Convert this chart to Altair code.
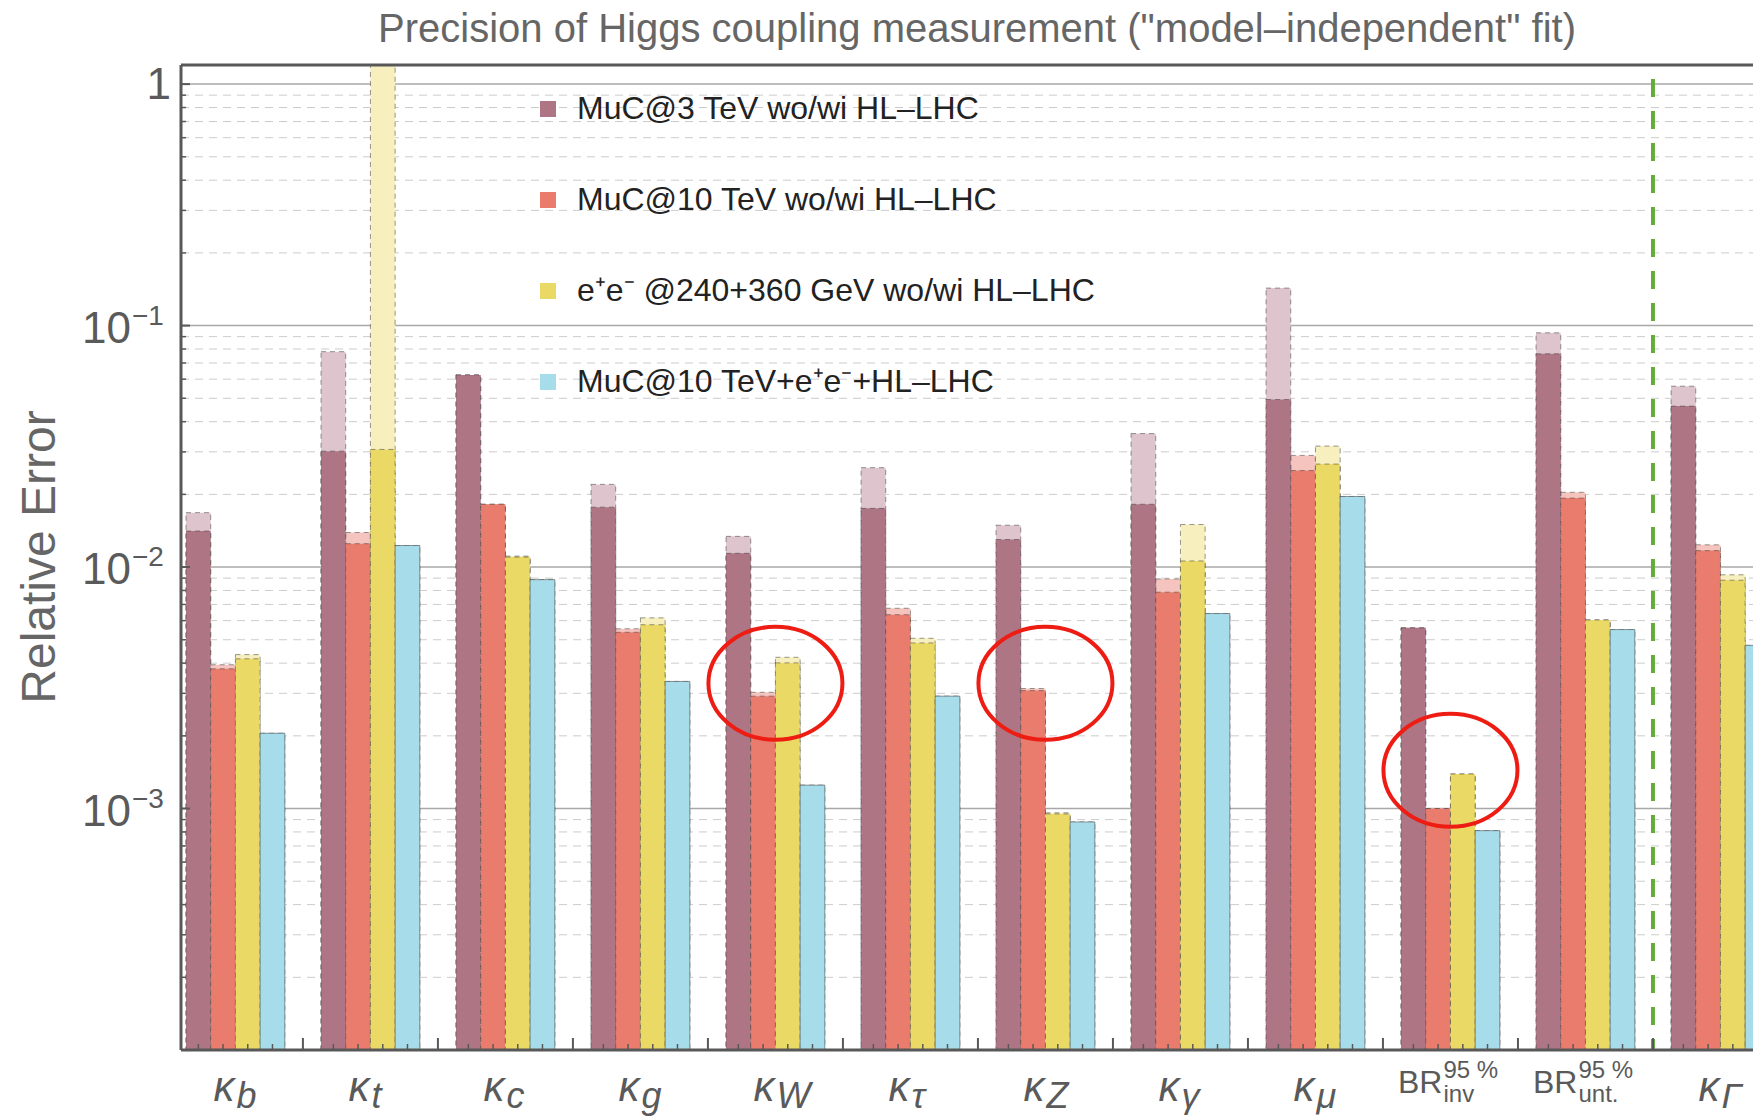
import altair as alt
import pandas as pd

# ---------------------------------------------------------------- data
couplings = ["κb", "κt", "κc", "κg", "κW", "κτ", "κZ", "κγ", "κμ", "BRinv", "BRunt", "κΓ"]
label_main = ["κ", "κ", "κ", "κ", "κ", "κ", "κ", "κ", "κ", "BR", "BR", "κ"]
label_sub = ["b", "t", "c", "g", "W", "τ", "Z", "γ", "μ", "inv", "unt.", "Γ"]
label_sup = ["", "", "", "", "", "", "", "", "", "95 %", "95 %", ""]

scenarios = [
    "MuC@3 TeV  wo/wi HL–LHC",
    "MuC@10 TeV  wo/wi HL–LHC",
    "e⁺e⁻ @240+360 GeV wo/wi HL–LHC",
    "MuC@10 TeV+e⁺e⁻+HL–LHC",
]

# relative errors without (wo) / with (wi) HL-LHC input
muc3_wo = [0.0168, 0.078, 0.0625, 0.0220, 0.0134, 0.0258, 0.0149, 0.0357, 0.143, 0.0056, 0.0933, 0.0561]
muc3_wi = [0.0141, 0.0302, 0.0625, 0.0177, 0.0114, 0.0175, 0.0130, 0.0182, 0.0494, 0.0056, 0.0764, 0.0464]
muc10_wo = [0.00394, 0.0139, 0.0182, 0.00555, 0.00303, 0.00675, 0.00314, 0.00893, 0.0290, 0.0010, 0.0204, 0.01236]
muc10_wi = [0.00379, 0.0125, 0.0182, 0.00537, 0.00292, 0.00635, 0.00308, 0.00787, 0.0251, 0.0010, 0.0193, 0.0117]
ee_wo = [0.00434, 2.0, 0.0111, 0.00616, 0.00423, 0.00507, 0.00096, 0.0150, 0.0317, 0.00139, 0.00604, 0.00929]
ee_wi = [0.00417, 0.0307, 0.0110, 0.00577, 0.00401, 0.00485, 0.00095, 0.0106, 0.0267, 0.00139, 0.00604, 0.00882]
combined = [0.00205, 0.01228, 0.00887, 0.00336, 0.00125, 0.00292, 0.00088, 0.00642, 0.0196, 0.00081, 0.00551, 0.00474]

# highlighted entries: coupling index and level of the ring centre
ring_coupling = [4, 6, 9]
ring_level = [0.0033, 0.0033, 0.00144]

# dashed separator after this coupling index, up to this level
divider_after = [10]
divider_top = [1.05]

# y-axis tick labels
tick_values = [1, 0.1, 0.01, 0.001]
tick_base = ["1", "10", "10", "10"]
tick_exp = ["", "−1", "−2", "−3"]

# ---------------------------------------------------------------- style
W, H = 1572, 985
BAR = 0.183                      # bar width in units of one coupling slot
GROUP = 4 * BAR
X_DOMAIN = [-0.037, 11.607]
Y_DOMAIN = [1e-4, 1.2]
FONT = "Liberation Sans"
SOLID = ["#AE7584", "#E97C6C", "#EBD966", "#A7DCEA"]
LIGHT = ["#DEC5CD", "#F6C4BE", "#F7EFBD", "#A7DCEA"]
FRAME = "#585858"
TXT = "#5a5a5a"

xscale = alt.Scale(domain=X_DOMAIN, nice=False, zero=False)
yscale = alt.Scale(type="log", domain=Y_DOMAIN, nice=False)

# ---------------------------------------------------------------- tables
wo_sets = [muc3_wo, muc10_wo, ee_wo, combined]
wi_sets = [muc3_wi, muc10_wi, ee_wi, combined]
rows = []
for g, name in enumerate(couplings):
    for s, scen in enumerate(scenarios):
        rows.append({
            "coupling": name, "scenario": scen,
            "x0": g + s * BAR, "x1": g + (s + 1) * BAR, "xc": g + (s + 0.5) * BAR,
            "wo": wo_sets[s][g], "wi": wi_sets[s][g],
        })
bars = pd.DataFrame(rows)

major_lines = pd.DataFrame({"v": [1e-3, 1e-2, 1e-1, 1.0]})
minor_lines = pd.DataFrame({"v": [m * 10.0 ** k for k in range(-4, 0) for m in range(2, 10)]})
gap_centres = pd.DataFrame({"x": [g + GROUP + (1 - GROUP) / 2 for g in range(len(couplings) - 1)]})
divider = pd.DataFrame({"x": [g + GROUP + (1 - GROUP) / 2 for g in divider_after],
                        "top": divider_top})
rings = pd.DataFrame({"x": [g + GROUP / 2 for g in ring_coupling], "y": ring_level})
labels = pd.DataFrame({"xc": [g + GROUP / 2 for g in range(len(couplings))],
                       "main": label_main, "sub": label_sub, "sup": label_sup})
ticks = pd.DataFrame({"v": tick_values, "base": tick_base, "exp": tick_exp})
one = pd.DataFrame({"t": ["Precision of Higgs coupling measurement (\"model–independent\" fit)"]})
ytitle = pd.DataFrame({"t": ["Relative Error"]})

X = lambda f: alt.X(f, scale=xscale, axis=None)
Y = lambda f: alt.Y(f, scale=yscale, axis=None)

# ---------------------------------------------------------------- layers
grid_minor = alt.Chart(minor_lines).mark_rule(color="#cccccc", strokeWidth=1, strokeDash=[8, 6]).encode(
    x=alt.value(0), x2=alt.value(W), y=Y("v:Q"))
grid_major = alt.Chart(major_lines).mark_rule(color="#a8a8a8", strokeWidth=1.5).encode(
    x=alt.value(0), x2=alt.value(W), y=Y("v:Q"))

sep = alt.Chart(divider).mark_rule(color="#62AD3A", strokeWidth=4, strokeDash=[18, 14]).encode(
    x=X("x:Q"), y=Y("top:Q"), y2=alt.datum(Y_DOMAIN[0]))

light = alt.Chart(bars).mark_bar(
    clip=True, stroke="#444444", strokeWidth=1, strokeOpacity=0.55, strokeDash=[5, 4]
).encode(
    x=X("x0:Q"), x2="x1:Q", y=Y("wo:Q"), y2=alt.datum(Y_DOMAIN[0]),
    color=alt.Color("scenario:N", scale=alt.Scale(domain=scenarios, range=LIGHT), legend=None),
)

solid = alt.Chart(bars).mark_bar(
    clip=True, stroke="#444444", strokeWidth=1, strokeOpacity=0.55
).encode(
    x=X("x0:Q"), x2="x1:Q", y=Y("wi:Q"), y2=alt.datum(Y_DOMAIN[0]),
    color=alt.Color(
        "scenario:N",
        scale=alt.Scale(domain=scenarios, range=SOLID),
        legend=alt.Legend(
            orient="none", legendX=351, legendY=28, title=None,
            symbolType="square", symbolSize=256, symbolStrokeWidth=0, symbolOpacity=1,
            labelFont=FONT, labelFontSize=32, labelColor="#222222", labelOffset=13,
            labelLimit=900, rowPadding=59, padding=0,
        ),
    ),
    strokeDash=alt.StrokeDash("scenario:N", scale=alt.Scale(domain=scenarios, range=[[5, 4], [5, 4], [5, 4], [1, 0]]),
                              legend=None),
)

xt_major = alt.Chart(gap_centres).mark_rule(color=FRAME, strokeWidth=2).encode(
    x=X("x:Q"), y=alt.value(H), y2=alt.value(H - 12))
xt_minor = alt.Chart(bars).mark_rule(color=FRAME, strokeWidth=1.5).encode(
    x=X("xc:Q"), y=alt.value(H), y2=alt.value(H - 6))
yt_major = alt.Chart(major_lines).mark_rule(color=FRAME, strokeWidth=2).encode(
    x=alt.value(0), x2=alt.value(9), y=Y("v:Q"))
yt_minor = alt.Chart(minor_lines).mark_rule(color=FRAME, strokeWidth=1.5).encode(
    x=alt.value(0), x2=alt.value(5), y=Y("v:Q"))

frame_top = alt.Chart(one).mark_rule(color=FRAME, strokeWidth=3).encode(
    x=alt.value(0), x2=alt.value(W), y=alt.value(0))
frame_bottom = alt.Chart(one).mark_rule(color=FRAME, strokeWidth=3).encode(
    x=alt.value(0), x2=alt.value(W), y=alt.value(H))
frame_left = alt.Chart(one).mark_rule(color=FRAME, strokeWidth=3).encode(
    x=alt.value(0), y=alt.value(0), y2=alt.value(H))

ring = alt.Chart(rings).mark_point(
    shape="M-1,0A1,0.843,0,1,1,1,0A1,0.843,0,1,1,-1,0Z",
    size=17956, filled=False, strokeWidth=4, color="#EE1D14", opacity=1,
).encode(x=X("x:Q"), y=Y("y:Q"))

kappa = labels[labels["main"] == "κ"]
br = labels[labels["main"] == "BR"]
k_main = alt.Chart(kappa).mark_text(align="right", baseline="alphabetic", dx=-1, font=FONT,
                                    fontSize=42, fontStyle="italic", color=TXT).encode(
    x=X("xc:Q"), y=alt.value(1036), text="main:N")
k_sub = alt.Chart(kappa).mark_text(align="left", baseline="alphabetic", dx=1, font=FONT,
                                   fontSize=36, fontStyle="italic", color=TXT).encode(
    x=X("xc:Q"), y=alt.value(1043), text="sub:N")
b_main = alt.Chart(br).mark_text(align="right", baseline="alphabetic", dx=-8, font=FONT,
                                 fontSize=32, color=TXT).encode(
    x=X("xc:Q"), y=alt.value(1028), text="main:N")
b_sup = alt.Chart(br).mark_text(align="left", baseline="alphabetic", dx=-7, font=FONT,
                                fontSize=24, color=TXT).encode(
    x=X("xc:Q"), y=alt.value(1013), text="sup:N")
b_sub = alt.Chart(br).mark_text(align="left", baseline="alphabetic", dx=-7, font=FONT,
                                fontSize=24, color=TXT).encode(
    x=X("xc:Q"), y=alt.value(1037), text="sub:N")

tl_one = alt.Chart(ticks).transform_filter("datum.exp == ''").mark_text(
    align="right", baseline="middle", dy=2, font=FONT, fontSize=44, color=TXT).encode(
    x=alt.value(-10), y=Y("v:Q"), text="base:N")
tl_base = alt.Chart(ticks).transform_filter("datum.exp != ''").mark_text(
    align="right", baseline="middle", dy=4, font=FONT, fontSize=44, color=TXT).encode(
    x=alt.value(-50), y=Y("v:Q"), text="base:N")
tl_exp = alt.Chart(ticks).transform_filter("datum.exp != ''").mark_text(
    align="left", baseline="middle", dy=-9, font=FONT, fontSize=28, color=TXT).encode(
    x=alt.value(-49), y=Y("v:Q"), text="exp:N")

title = alt.Chart(one).mark_text(align="center", baseline="alphabetic", font=FONT,
                                 fontSize=40, color="#666666").encode(
    x=alt.value(796), y=alt.value(-23), text="t:N")
y_title = alt.Chart(ytitle).mark_text(align="center", baseline="middle", angle=270, font=FONT,
                                      fontSize=48, color="#666666").encode(
    x=alt.value(-140), y=alt.value(492), text="t:N")

chart = alt.layer(
    grid_minor, grid_major, sep, light, solid,
    xt_major, xt_minor, yt_major, yt_minor,
    frame_top, frame_bottom, frame_left, ring,
    k_main, k_sub, b_main, b_sup, b_sub,
    tl_one, tl_base, tl_exp, title, y_title,
).resolve_scale(color="independent").properties(
    width=W, height=H,
    autosize=alt.AutoSizeParams(type="none"),
    padding={"left": 181, "top": 65, "right": 0, "bottom": 66},
    background="white",
).configure_view(stroke=None)

chart.save("out.html", embed_options={"renderer": "svg", "actions": False})
